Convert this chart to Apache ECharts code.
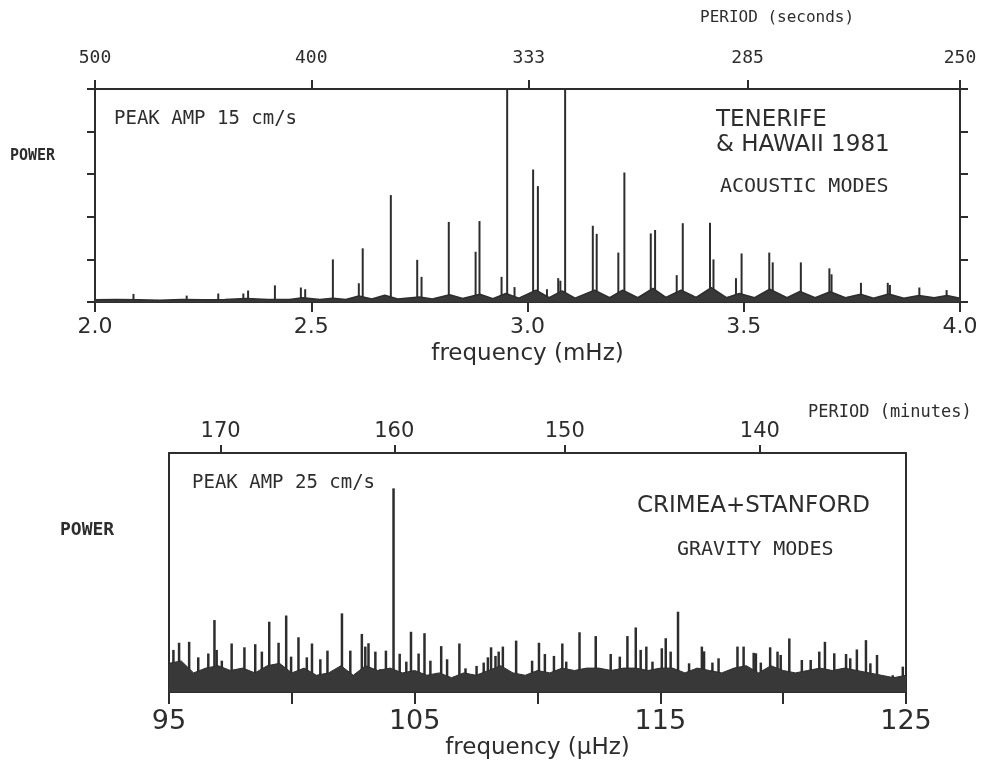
<!DOCTYPE html>
<html>
<head>
<meta charset="utf-8">
<title>Solar oscillation power spectra</title>
<script src="https://cdn.jsdelivr.net/npm/echarts@6/dist/echarts.min.js"></script>
<style>
  html, body { margin: 0; padding: 0; background: #ffffff; }
  #main { width: 984px; height: 773px; }
</style>
</head>
<body>
<div id="main"></div>
<script>
// acoustic modes (top panel): peak frequency (mHz) and power (arbitrary, 5 = top of box)
const acFreq = [2.089, 2.212, 2.285, 2.343, 2.354, 2.416, 2.476, 2.486, 2.55, 2.610, 2.619, 2.684,
  2.745, 2.755, 2.818, 2.880, 2.889, 2.940, 2.953, 2.97, 3.013, 3.024, 3.045, 3.071, 3.076, 3.087,
  3.151, 3.160, 3.210, 3.224, 3.285, 3.295, 3.345, 3.359, 3.422, 3.430, 3.482, 3.495, 3.559, 3.567,
  3.632, 3.698, 3.703, 3.771, 3.833, 3.838, 3.906, 3.969]
const acPower = [0.19, 0.15, 0.2, 0.2, 0.27, 0.39, 0.34, 0.3, 1.0, 0.44, 1.26, 2.51,
  0.99, 0.59, 1.88, 1.18, 1.9, 0.59, 5, 0.35, 3.11, 2.72, 0.3, 0.56, 0.5, 5,
  1.79, 1.6, 1.16, 3.04, 1.61, 1.69, 0.63, 1.85, 1.86, 1.0, 0.56, 1.14, 1.16, 0.93,
  0.93, 0.79, 0.65, 0.45, 0.45, 0.4, 0.34, 0.28]

// acoustic modes: noise floor with the small humps under each peak
const acFloorFreq = [2.00, 2.05, 2.10, 2.15, 2.20, 2.25, 2.30, 2.35, 2.40, 2.45, 2.48, 2.52, 2.55, 2.58,
  2.61, 2.64, 2.67, 2.70, 2.75, 2.78, 2.82, 2.85, 2.89, 2.92, 2.95, 2.98, 3.02, 3.05, 3.08, 3.11,
  3.155, 3.19, 3.22, 3.255, 3.29, 3.32, 3.355, 3.39, 3.425, 3.46, 3.49, 3.525, 3.56, 3.60, 3.63,
  3.665, 3.70, 3.735, 3.77, 3.80, 3.835, 3.87, 3.905, 3.94, 3.97, 4.00]
const acFloorPower = [0.05, 0.06, 0.05, 0.04, 0.06, 0.05, 0.06, 0.08, 0.06, 0.06, 0.10, 0.06, 0.09, 0.06,
  0.14, 0.07, 0.16, 0.07, 0.12, 0.07, 0.17, 0.08, 0.18, 0.08, 0.20, 0.09, 0.28, 0.10, 0.26, 0.09,
  0.28, 0.10, 0.28, 0.10, 0.32, 0.11, 0.28, 0.11, 0.34, 0.10, 0.20, 0.10, 0.30, 0.10, 0.25,
  0.10, 0.24, 0.10, 0.18, 0.09, 0.19, 0.09, 0.15, 0.10, 0.15, 0.09]

// gravity modes (bottom panel): spike frequency (uHz) and power (arbitrary, 10 = top of box)
const gFreq = [95.18, 95.41, 95.82, 96.19, 96.60, 96.85, 96.94, 97.15, 97.55, 97.80, 98.07, 98.51,
  98.78, 99.08, 99.46, 99.77, 99.97, 100.27, 100.61, 100.82, 101.16, 101.45, 102.04, 102.38,
  102.85, 102.99, 103.12, 103.40, 103.60, 103.83, 104.14, 104.39, 104.66, 104.85, 105.16, 105.40,
  105.64, 106.08, 106.32, 106.82, 107.07, 107.52, 107.81, 107.98, 108.11, 108.29, 108.42, 108.59,
  109.13, 109.78, 110.06, 110.30, 110.67, 111.01, 111.17, 111.71, 112.37, 112.98, 113.35, 113.66,
  114.00, 114.20, 114.43, 114.68, 115.06, 115.22, 115.42, 115.72, 116.17, 116.69, 116.78, 117.12,
  117.37, 117.60, 118.14, 118.39, 118.80, 118.89, 119.09, 119.47, 119.77, 119.90, 120.25, 120.76,
  121.12, 121.47, 121.70, 122.08, 122.56, 122.73, 123.00, 123.37, 123.55, 123.82, 124.46, 124.87]
const gPower = [1.76, 2.06, 2.10, 1.45, 1.61, 3.01, 1.76, 1.31, 2.03, 0.85, 1.87, 2.00,
  1.69, 2.94, 2.06, 3.20, 1.48, 2.29, 1.45, 2.03, 1.37, 1.73, 3.29, 1.73,
  2.43, 1.90, 2.04, 1.69, 0.95, 1.73, 8.52, 1.60, 1.27, 2.52, 1.61, 2.46,
  1.31, 1.92, 1.37, 2.03, 0.99, 1.09, 1.23, 1.45, 1.87, 1.51, 1.69, 1.90,
  2.15, 1.31, 2.06, 1.59, 1.51, 2.03, 1.27, 2.50, 2.34, 1.59, 1.48, 2.34,
  2.70, 1.76, 1.90, 1.27, 1.83, 2.25, 1.69, 3.36, 1.20, 1.90, 1.70, 1.23,
  1.41, 0.70, 1.90, 1.90, 1.64, 1.62, 1.23, 1.87, 1.69, 1.55, 2.24, 1.34,
  1.34, 1.69, 2.10, 1.62, 1.59, 1.41, 1.78, 2.17, 1.20, 1.55, 0.70, 1.06]

// gravity modes: dense noise band along the bottom
const gFloorFreq = [95.0, 95.5, 96.0, 96.5, 97.0, 97.5, 98.0, 98.5, 99.0, 99.5,
  100.0, 100.5, 101.0, 101.5, 102.0, 102.5, 103.0, 103.5, 104.0, 104.5,
  105.0, 105.5, 106.0, 106.5, 107.0, 107.5, 108.0, 108.5, 109.0, 109.5,
  110.0, 110.5, 111.0, 111.5, 112.0, 112.5, 113.0, 113.5, 114.0, 114.5,
  115.0, 115.5, 116.0, 116.5, 117.0, 117.5, 118.0, 118.5, 119.0, 119.5,
  120.0, 120.5, 121.0, 121.5, 122.0, 122.5, 123.0, 123.5, 124.0, 124.5, 125.0]
const gFloorPower = [1.2, 1.3, 0.8, 1.0, 1.1, 0.9, 1.0, 0.8, 1.1, 1.2,
  0.8, 1.0, 0.7, 0.8, 1.1, 0.7, 1.1, 0.9, 1.0, 0.8,
  0.9, 0.7, 0.8, 0.6, 0.8, 0.7, 0.9, 1.1, 0.8, 0.7,
  0.9, 0.8, 1.0, 0.9, 1.0, 1.0, 0.9, 1.0, 1.0, 0.9,
  1.0, 1.0, 0.8, 1.0, 0.9, 0.8, 1.0, 1.1, 0.8, 1.1,
  0.9, 0.8, 0.9, 1.0, 0.9, 1.0, 0.9, 0.8, 0.7, 0.6, 0.7]

// tick labels
const periodSecLabels = [500, 400, 333, 285, 250] // top axis, seconds
const periodMinLabels = [170, 160, 150, 140] // top axis, minutes
const periodMinFreq = [97.1, 104.17, 111.11, 119.05] // where those ticks sit (uHz), as drawn
const gFreqLabels = [95, 105, 115, 125]

const ink = '#2d2d2d'
const mono = 'DejaVu Sans Mono'
const sans = 'DejaVu Sans'

const zip = (xs, ys) => xs.map((x, i) => [x, ys[i]])

function spikeSeries (xi, yi, data, width) {
  return {
    type: 'custom',
    xAxisIndex: xi,
    yAxisIndex: yi,
    data: data,
    clip: true,
    renderItem (params, api) {
      const b = api.coord([api.value(0), 0])
      const t = api.coord([api.value(0), api.value(1)])
      return {
        type: 'line',
        shape: { x1: b[0], y1: b[1], x2: t[0], y2: t[1] },
        style: { stroke: ink, lineWidth: width }
      }
    }
  }
}

function floorSeries (xi, yi, data, w) {
  return {
    type: 'line',
    xAxisIndex: xi,
    yAxisIndex: yi,
    data: data,
    symbol: 'none',
    lineStyle: { color: ink, width: w },
    areaStyle: { color: '#383838', opacity: 1 }
  }
}

const axisLine = { show: true, onZero: false, lineStyle: { color: ink, width: 2 } }
const noSplit = { show: false }

// top axis in seconds sits at f = 1000 / P (mHz)
const periodSecFreq = periodSecLabels.map(p => 1000 / p)

function labelAt (vals, labels) {
  return v => {
    const i = vals.findIndex(u => Math.abs(u - v) < 1e-6)
    return i < 0 ? '' : String(labels[i])
  }
}

const chart = echarts.init(document.getElementById('main'))
chart.setOption({
  backgroundColor: '#ffffff',
  animation: false,
  grid: [
    { left: 95, right: 24, top: 89, height: 213 },
    { left: 169, right: 78, top: 453, height: 239 }
  ],
  xAxis: [
    {
      gridIndex: 0, type: 'value', position: 'bottom', min: 2, max: 4, interval: 0.5,
      axisLine: axisLine, splitLine: noSplit,
      axisTick: { show: true, length: 10, lineStyle: { color: ink, width: 2 } },
      axisLabel: { margin: 14, color: ink, fontFamily: sans, fontSize: 22, formatter: v => v.toFixed(1) },
      name: 'frequency (mHz)', nameLocation: 'middle', nameGap: 41,
      nameTextStyle: { color: ink, fontFamily: sans, fontSize: 23 }
    },
    {
      gridIndex: 0, type: 'value', position: 'top', min: 2, max: 4,
      axisLine: axisLine, splitLine: noSplit,
      axisTick: { show: true, length: 9, customValues: periodSecFreq, lineStyle: { color: ink, width: 2 } },
      axisLabel: {
        margin: 22, color: ink, fontFamily: mono, fontSize: 18,
        customValues: periodSecFreq, formatter: labelAt(periodSecFreq, periodSecLabels)
      }
    },
    {
      gridIndex: 1, type: 'value', position: 'bottom', min: 95, max: 125, interval: 5,
      axisLine: axisLine, splitLine: noSplit,
      axisTick: { show: true, length: 12, lineStyle: { color: ink, width: 2 } },
      axisLabel: {
        margin: 16, color: ink, fontFamily: sans, fontSize: 27,
        formatter: v => (gFreqLabels.indexOf(v) >= 0 ? String(v) : '')
      },
      name: 'frequency (\u03bcHz)', nameLocation: 'middle', nameGap: 45,
      nameTextStyle: { color: ink, fontFamily: sans, fontSize: 23 }
    },
    {
      gridIndex: 1, type: 'value', position: 'top', min: 95, max: 125,
      axisLine: axisLine, splitLine: noSplit,
      axisTick: { show: true, length: 8, customValues: periodMinFreq, lineStyle: { color: ink, width: 2 } },
      axisLabel: {
        margin: 11, color: ink, fontFamily: sans, fontSize: 21,
        customValues: periodMinFreq, formatter: labelAt(periodMinFreq, periodMinLabels)
      }
    }
  ],
  yAxis: [
    {
      gridIndex: 0, type: 'value', position: 'left', min: 0, max: 5, interval: 1,
      axisLine: axisLine, splitLine: noSplit,
      axisTick: { show: true, length: 8, lineStyle: { color: ink, width: 2 } },
      axisLabel: { show: false }
    },
    {
      gridIndex: 0, type: 'value', position: 'right', min: 0, max: 5, interval: 1,
      axisLine: axisLine, splitLine: noSplit,
      axisTick: { show: true, length: 8, lineStyle: { color: ink, width: 2 } },
      axisLabel: { show: false }
    },
    {
      gridIndex: 1, type: 'value', position: 'left', min: 0, max: 10,
      axisLine: axisLine, splitLine: noSplit, axisTick: { show: false }, axisLabel: { show: false }
    },
    {
      gridIndex: 1, type: 'value', position: 'right', min: 0, max: 10,
      axisLine: axisLine, splitLine: noSplit, axisTick: { show: false }, axisLabel: { show: false }
    }
  ],
  series: [
    floorSeries(0, 0, zip(acFloorFreq, acFloorPower), 1.5),
    spikeSeries(0, 0, zip(acFreq, acPower), 2),
    floorSeries(2, 2, zip(gFloorFreq, gFloorPower), 1),
    spikeSeries(2, 2, zip(gFreq, gPower), 2.5)
  ],
  graphic: [
    { type: 'text', x: 700, y: 18, style: { text: 'PERIOD (seconds)', font: '16px ' + mono, fill: ink, verticalAlign: 'middle' } },
    { type: 'text', x: 10, y: 156, style: { text: 'POWER', font: 'bold 15px ' + mono, fill: ink, verticalAlign: 'middle' } },
    { type: 'text', x: 114, y: 119, style: { text: 'PEAK AMP 15 cm/s', font: '19px ' + mono, fill: ink, verticalAlign: 'middle' } },
    { type: 'text', x: 716, y: 120, style: { text: 'TENERIFE', font: '23px ' + sans, fill: ink, verticalAlign: 'middle' } },
    { type: 'text', x: 716, y: 145, style: { text: '& HAWAII 1981', font: '23px ' + sans, fill: ink, verticalAlign: 'middle' } },
    { type: 'text', x: 720, y: 187, style: { text: 'ACOUSTIC MODES', font: '20px ' + mono, fill: ink, verticalAlign: 'middle' } },
    { type: 'text', x: 808, y: 413, style: { text: 'PERIOD (minutes)', font: '17px ' + mono, fill: ink, verticalAlign: 'middle' } },
    { type: 'text', x: 60, y: 530, style: { text: 'POWER', font: 'bold 18px ' + mono, fill: ink, verticalAlign: 'middle' } },
    { type: 'text', x: 192, y: 483, style: { text: 'PEAK AMP 25 cm/s', font: '19px ' + mono, fill: ink, verticalAlign: 'middle' } },
    { type: 'text', x: 637, y: 506, style: { text: 'CRIMEA+STANFORD', font: '23px ' + sans, fill: ink, verticalAlign: 'middle' } },
    { type: 'text', x: 677, y: 550, style: { text: 'GRAVITY MODES', font: '20px ' + mono, fill: ink, verticalAlign: 'middle' } }
  ]
})
</script>
</body>
</html>
